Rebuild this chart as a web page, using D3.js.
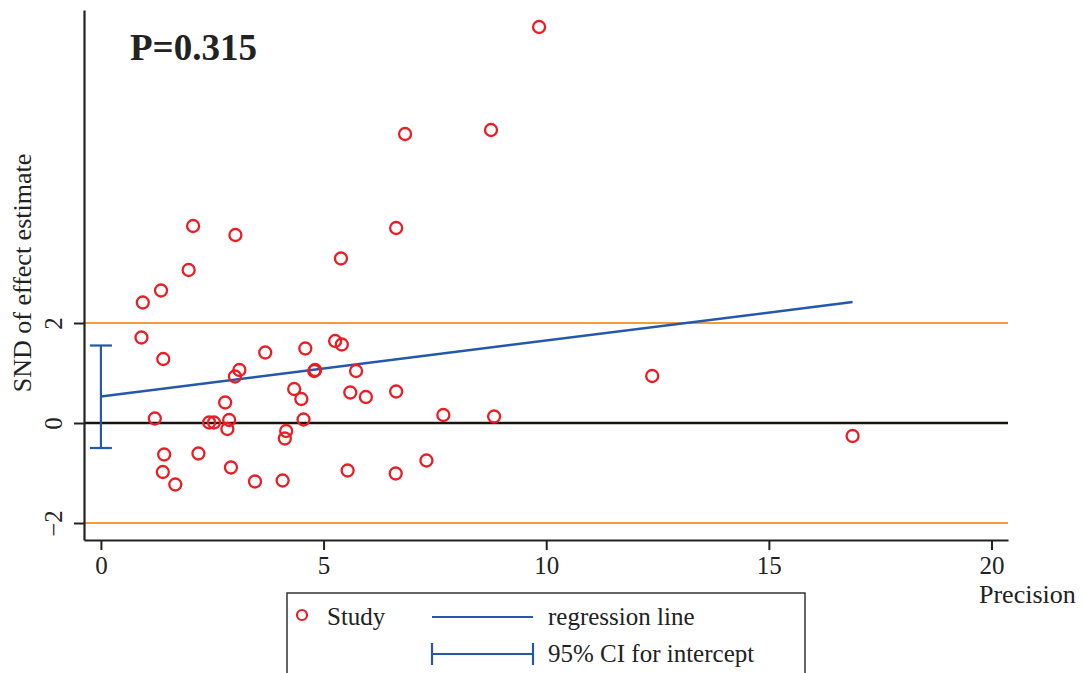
<!DOCTYPE html>
<html>
<head>
<meta charset="utf-8">
<script src="https://cdn.jsdelivr.net/npm/d3@7"></script>
<style>
  body { margin: 0; background: #fff; }
  svg { display: block; }
  text { font-family: "Liberation Serif", "Times New Roman", serif; fill: #222; }
</style>
</head>
<body>
<div id="chart"></div>
<script>
// studies: precision (x) and standard normal deviate (y)
const precision = [9.84, 8.76, 6.83, 2.07, 3.02, 6.63, 5.39, 1.97, 1.35, 0.94,
  0.91, 1.40, 1.21, 1.42, 1.39, 1.67, 2.19, 2.43, 2.54, 2.79,
  2.88, 2.84, 2.92, 3.01, 3.11, 3.69, 3.46, 4.08, 4.16, 4.13,
  4.34, 4.50, 4.55, 4.59, 4.81, 4.79, 5.26, 5.41, 5.60, 5.73,
  5.95, 5.54, 6.63, 6.62, 7.31, 7.69, 8.83, 12.38, 16.88];
const snd = [7.92, 5.86, 5.78, 3.94, 3.76, 3.90, 3.29, 3.06, 2.65, 2.41,
  1.71, 1.28, 0.09, -0.63, -0.98, -1.23, -0.61, 0.01, 0.01, 0.41,
  0.06, -0.12, -0.89, 0.93, 1.06, 1.41, -1.17, -1.15, -0.16, -0.31,
  0.68, 0.48, 0.07, 1.49, 1.06, 1.04, 1.64, 1.57, 0.61, 1.04,
  0.52, -0.95, 0.63, -1.01, -0.75, 0.16, 0.13, 0.94, -0.26];

// regression line end points and 95% CI for the intercept
const regX = [0, 16.88];
const regY = [0.53, 2.42];
const ciIntercept = [-0.50, 1.55];

const xTicks = [0, 5, 10, 15, 20];
const yTicks = [-2, 0, 2];
const refLines = [-2, 2];
const pLabel = "P=0.315";

const W = 1082, H = 673;
const red = "#ec1c24", blue = "#2458a8", orange = "#f39b3e";

const svg = d3.select("#chart").append("svg")
  .attr("width", W).attr("height", H);

const x = d3.scaleLinear().domain([-0.38, 20.37]).range([84, 1008]);
const y = d3.scaleLinear().domain([-2.34, 8.26]).range([540, 10]);

// reference lines at +/-2
svg.selectAll(".ref")
  .data(refLines)
  .join("line")
  .attr("x1", x(-0.38)).attr("x2", x(20.37))
  .attr("y1", d => y(d)).attr("y2", d => y(d))
  .attr("stroke", orange).attr("stroke-width", 2);

// zero line
svg.append("line")
  .attr("x1", x(-0.38)).attr("x2", x(20.37))
  .attr("y1", y(0)).attr("y2", y(0))
  .attr("stroke", "#1a140e").attr("stroke-width", 2.5);

// axes
const xAxis = svg.append("g")
  .attr("transform", `translate(0,${y(-2.34)})`)
  .call(d3.axisBottom(x).tickValues(xTicks).tickSize(10).tickSizeOuter(0).tickPadding(6));

const yAxis = svg.append("g")
  .attr("transform", `translate(${x(-0.38)},0)`)
  .call(d3.axisLeft(y).tickValues(yTicks).tickSize(10).tickSizeOuter(0)
    .tickFormat(d => d < 0 ? "\u2212" + Math.abs(d) : d));

[xAxis, yAxis].forEach(g => {
  g.select(".domain").attr("stroke", "#222").attr("stroke-width", 2.2);
  g.selectAll(".tick line").attr("stroke", "#222").attr("stroke-width", 2);
  g.selectAll(".tick text")
    .style("font-family", "'Liberation Serif', 'Times New Roman', serif")
    .style("font-size", "25px").attr("fill", "#222");
});

yAxis.selectAll(".tick text")
  .attr("x", null).attr("dy", null)
  .attr("text-anchor", "middle")
  .attr("transform", "translate(-22,0) rotate(-90)");

xAxis.selectAll(".tick text").attr("dy", "0.71em");

// axis titles
svg.append("text")
  .attr("x", 979).attr("y", 603)
  .style("font-size", "26px")
  .text("Precision");

svg.append("text")
  .attr("transform", `translate(31,273) rotate(-90)`)
  .attr("text-anchor", "middle")
  .style("font-size", "26px")
  .text("SND of effect estimate");

// CI for intercept
const capW = 11;
svg.append("line")
  .attr("x1", x(0)).attr("x2", x(0))
  .attr("y1", y(ciIntercept[0])).attr("y2", y(ciIntercept[1]))
  .attr("stroke", blue).attr("stroke-width", 2.2);
svg.selectAll(".cap")
  .data(ciIntercept)
  .join("line")
  .attr("x1", x(0) - capW).attr("x2", x(0) + capW)
  .attr("y1", d => y(d)).attr("y2", d => y(d))
  .attr("stroke", blue).attr("stroke-width", 2.2);

// regression line
svg.append("path")
  .datum(d3.zip(regX, regY))
  .attr("d", d3.line().x(d => x(d[0])).y(d => y(d[1])))
  .attr("fill", "none").attr("stroke", blue).attr("stroke-width", 2.5);

// studies
svg.append("g")
  .selectAll("circle")
  .data(d3.zip(precision, snd))
  .join("circle")
  .attr("cx", d => x(d[0]))
  .attr("cy", d => y(d[1]))
  .attr("r", 6)
  .attr("fill", "none")
  .attr("stroke", red)
  .attr("stroke-width", 2.3);

// P value
svg.append("text")
  .attr("x", 130).attr("y", 60)
  .style("font-size", "37px").style("font-weight", "bold")
  .attr("fill", "#111")
  .text(pLabel);

// legend (cut off at the bottom, as in the original)
const legend = svg.append("g");
legend.append("rect")
  .attr("x", 287).attr("y", 593)
  .attr("width", 518).attr("height", 110)
  .attr("fill", "#fff").attr("stroke", "#333").attr("stroke-width", 1.5);

legend.append("circle")
  .attr("cx", 302).attr("cy", 615).attr("r", 5)
  .attr("fill", "none").attr("stroke", red).attr("stroke-width", 2.2);
legend.append("text")
  .attr("x", 327).attr("y", 625)
  .style("font-size", "25px").text("Study");

legend.append("line")
  .attr("x1", 432).attr("x2", 533).attr("y1", 617).attr("y2", 617)
  .attr("stroke", blue).attr("stroke-width", 2.2);
legend.append("text")
  .attr("x", 548).attr("y", 625)
  .style("font-size", "25px").text("regression line");

legend.append("line")
  .attr("x1", 432).attr("x2", 533).attr("y1", 654).attr("y2", 654)
  .attr("stroke", blue).attr("stroke-width", 2.2);
[432, 533].forEach(cx => {
  legend.append("line")
    .attr("x1", cx).attr("x2", cx).attr("y1", 643).attr("y2", 665)
    .attr("stroke", blue).attr("stroke-width", 2.2);
});
legend.append("text")
  .attr("x", 548).attr("y", 662)
  .style("font-size", "25px").text("95% CI for intercept");
</script>
</body>
</html>
